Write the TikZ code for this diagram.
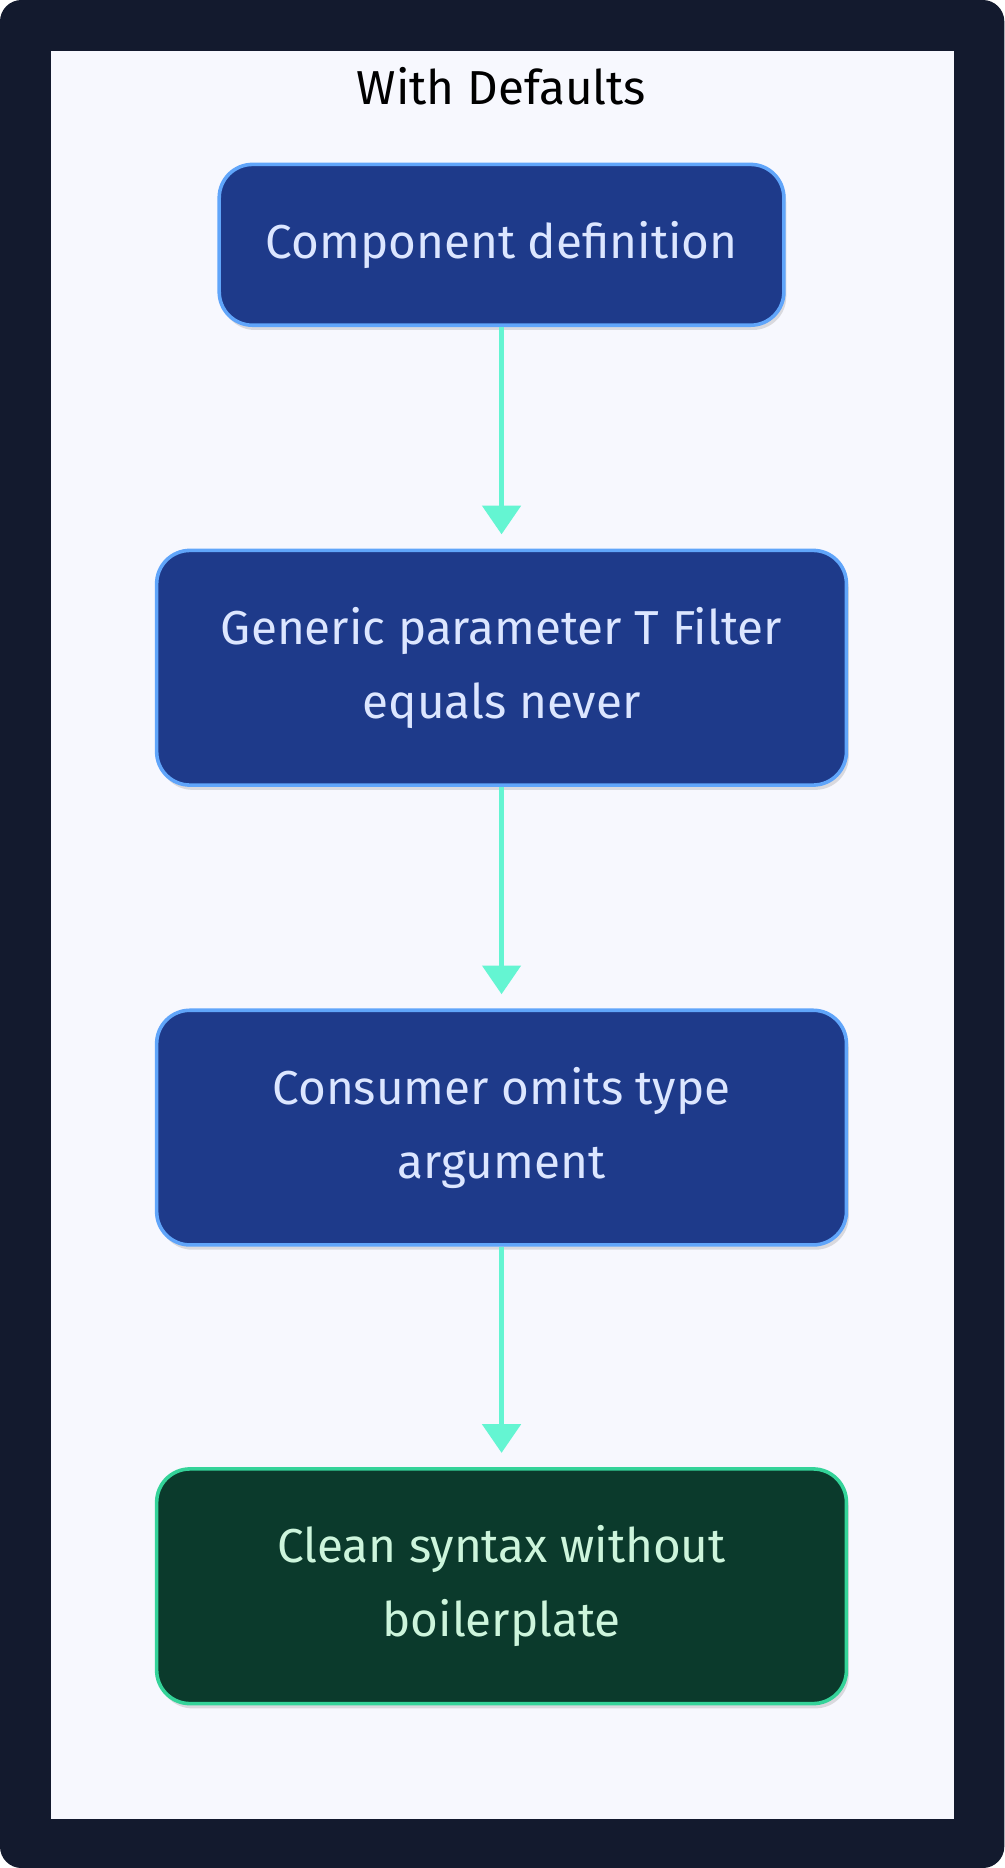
\documentclass[tikz,border=0pt]{standalone}
\usepackage{fontspec}
\setmainfont{Fira Sans}
\usetikzlibrary{arrows.meta,shadows}
\definecolor{outer}{HTML}{131A2E}
\definecolor{panel}{HTML}{F7F8FE}
\definecolor{bfill}{HTML}{1E3A8A}
\definecolor{bline}{HTML}{60A5FA}
\definecolor{btext}{HTML}{DCE6FF}
\definecolor{gfill}{HTML}{0B3A2C}
\definecolor{gline}{HTML}{34D399}
\definecolor{gtext}{HTML}{CDF5DC}
\definecolor{arr}{HTML}{64F5D2}
\begin{document}
\begin{tikzpicture}[x=1pt,y=-1pt,
  box/.style={rounded corners=28pt,line width=3pt,draw=bline,fill=bfill,text=btext,
    align=center,font=\fontsize{40}{62}\selectfont,inner sep=0pt,
    drop shadow={shadow xshift=2pt,shadow yshift=-4pt,opacity=0.25}},
  gbox/.style={box,draw=gline,fill=gfill,text=gtext},
  link/.style={draw=arr,line width=3.5pt,shorten >=12pt,-{Triangle[length=24pt,width=32pt]}}]
\useasboundingbox (0,0) rectangle (843,1568);
\fill[outer,rounded corners=18pt] (0,0) rectangle (843,1568);
\fill[panel] (43,43) rectangle (801,1527);
\node[font=\fontsize{40}{44}\selectfont,text=black] (t) at (421,72) {With Defaults};
\node[box,minimum width=474pt,minimum height=135pt] (a) at (421,205.5) {Component definition};
\node[box,minimum width=579pt,minimum height=197pt] (b) at (421,560.5) {Generic parameter T Filter\\equals never};
\node[box,minimum width=579pt,minimum height=197pt] (c) at (421,946.5) {Consumer omits type\\argument};
\node[gbox,minimum width=579pt,minimum height=197pt] (d) at (421,1331.5) {Clean syntax without\\boilerplate};
\draw[link] (a.south) -- (b.north);
\draw[link] (b.south) -- (c.north);
\draw[link] (c.south) -- (d.north);
\end{tikzpicture}
\end{document}
